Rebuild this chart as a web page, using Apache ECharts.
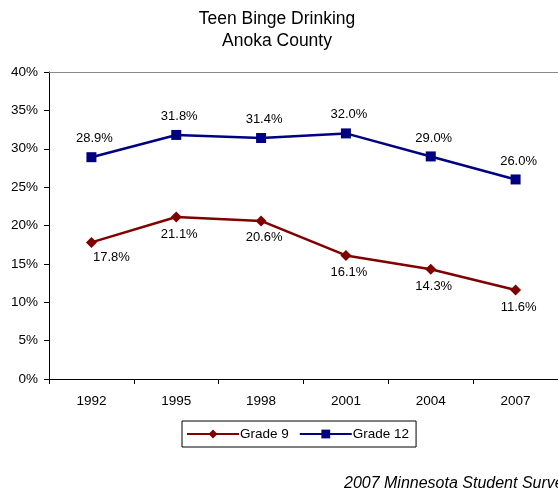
<!DOCTYPE html>
<html><head><meta charset="utf-8">
<script src="https://cdn.jsdelivr.net/npm/echarts@6/dist/echarts.min.js"></script>
<style>html,body{margin:0;padding:0;background:#fff}#c{width:558px;height:494px}</style>
</head><body><div id="c"></div>
<script>
const years = ['1992','1995','1998','2001','2004','2007'];
const grade9 = [17.8, 21.1, 20.6, 16.1, 14.3, 11.6];
const grade12 = [28.9, 31.8, 31.4, 32.0, 29.0, 26.0];
const yTicks = [0, 5, 10, 15, 20, 25, 30, 35, 40];
const font = 'Liberation Sans, Arial, sans-serif';
const pct = p => p.value.toFixed(1) + '%';
// first Grade 9 label sits further to the right in the original
const g9Data = grade9.map((v, i) => i === 0 ? {value: v, label: {offset: [20, -2]}} : v);
const chart = echarts.init(document.getElementById('c'), null, {renderer: 'canvas'});
chart.setOption({
  animation: false,
  backgroundColor: '#fff',
  title: [
    {text: 'Teen Binge Drinking\nAnoka County', left: 277, top: 8.5, textAlign: 'center', padding: 0,
     textStyle: {fontFamily: font, fontSize: 17.5, fontWeight: 'normal', color: '#000', lineHeight: 21.5}},
    {text: '2007 Minnesota Student Survey', left: 344, top: 476, padding: 0,
     textStyle: {fontFamily: font, fontSize: 16, fontStyle: 'italic', fontWeight: 'normal', color: '#000'}}
  ],
  grid: {left: 49, top: 72, width: 511, height: 307, containLabel: false},
  legend: {
    data: ['Grade 9', 'Grade 12'], left: 182, top: 421, orient: 'horizontal',
    borderColor: '#000', borderWidth: 1, padding: [6, 7, 6, 4], itemGap: 10,
    itemWidth: 52, itemHeight: 11,
    textStyle: {fontFamily: font, fontSize: 13.5, color: '#000', padding: [0, 0, 0, -4]}
  },
  xAxis: [
    {type: 'category', data: years, boundaryGap: true, position: 'bottom',
     axisLine: {lineStyle: {color: '#000', width: 1}},
     axisTick: {show: true, inside: false, length: 5, lineStyle: {color: '#000'}},
     axisLabel: {fontFamily: font, fontSize: 13.5, color: '#000', margin: 15},
     splitLine: {show: false}},
    {type: 'category', data: years, position: 'top',
     axisLine: {lineStyle: {color: '#888', width: 1}},
     axisTick: {show: false}, axisLabel: {show: false}}
  ],
  yAxis: {
    type: 'value', min: yTicks[0], max: yTicks[yTicks.length - 1], interval: 5,
    axisLine: {show: true, lineStyle: {color: '#000', width: 1}},
    axisTick: {show: true, length: 5, lineStyle: {color: '#000'}},
    axisLabel: {fontFamily: font, fontSize: 13.5, color: '#000', margin: 11,
      formatter: v => v + '%'},
    splitLine: {show: false}
  },
  series: [
    {name: 'Grade 9', type: 'line', data: g9Data, color: '#800000',
     symbol: 'diamond', symbolSize: 11,
     lineStyle: {width: 2.5, color: '#800000'}, itemStyle: {color: '#800000'},
     label: {show: true, position: 'bottom', distance: 5, offset: [3, 0],
       fontFamily: font, fontSize: 13, color: '#000', formatter: pct}},
    {name: 'Grade 12', type: 'line', data: grade12, color: '#000080',
     symbol: 'rect', symbolSize: 10,
     lineStyle: {width: 2.5, color: '#000080'}, itemStyle: {color: '#000080'},
     label: {show: true, position: 'top', distance: 7, offset: [3, 0],
       fontFamily: font, fontSize: 13, color: '#000', formatter: pct}}
  ]
});
</script></body></html>
